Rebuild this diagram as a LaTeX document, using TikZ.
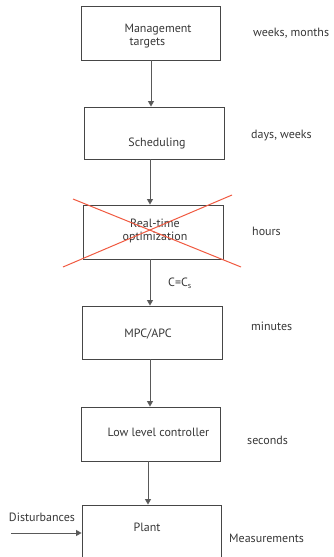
\documentclass[tikz,border=0pt]{standalone}
\usepackage{fontspec}
\setmainfont{PT Sans}
\usetikzlibrary{arrows.meta}
\definecolor{boxline}{RGB}{70,70,70}
\definecolor{txt}{RGB}{55,55,55}
\definecolor{crossred}{RGB}{240,90,65}
\begin{document}
\begin{tikzpicture}[x=1pt,y=-1pt,
  box/.style={draw=boxline,line width=0.9pt,rectangle,inner sep=0pt,minimum width=139pt,minimum height=54pt},
  lbl/.style={text=txt,inner sep=0pt,font=\fontsize{12}{13.5}\selectfont,align=center},
  arr/.style={draw=boxline!90,line width=0.9pt,-{Triangle[length=5.5pt,width=6pt]}},
  strike/.style={draw=crossred,line width=1pt}]
\useasboundingbox (0,0) rectangle (333,557);

% level boxes
\node[box] (mgmt)  at (150.5,33)  {};
\node[box,minimum width=140pt,minimum height=52pt] (sched) at (154,133) {};
\node[box,minimum width=140pt] (rto)   at (153,232) {};
\node[box,minimum width=140pt,minimum height=53pt] (mpc)   at (152,332.5) {};
\node[box] (llc)   at (150.5,434) {};
\node[box,minimum height=70pt] (plant) at (151.5,540) {};

% box captions
\node[lbl,align=left] (mgmtT) at (158,36) {Management\\\hspace*{5pt}targets};
\node[lbl] (schedT) at (157,143) {Scheduling};
\node[lbl] (rtoT)   at (155,231) {Real-time\\optimization};
\node[lbl] (mpcT)   at (148,334) {MPC/APC};
\node[lbl] (llcT)   at (158.5,432) {Low level controller};
\node[lbl] (plantT) at (147,527) {Plant};

% time scales
\node[lbl,anchor=west] (t1) at (253,33)  {weeks, months};
\node[lbl,anchor=west] (t2) at (251,136) {days, weeks};
\node[lbl,anchor=west] (t3) at (252,231) {hours};
\node[lbl,anchor=west] (t4) at (251,326) {minutes};
\node[lbl,anchor=west] (t5) at (247,440) {seconds};
\node[lbl,anchor=west] (t6) at (229,538) {Measurements};
\node[lbl] (dtxt) at (42,517) {Disturbances};

% connectors down the hierarchy
\draw[arr] ([xshift=0.5pt]mgmt.south) -- ([xshift=-3pt]sched.north);
\draw[arr] ([xshift=-4pt]sched.south) -- ([xshift=-3pt]rto.north);
\draw[arr] ([xshift=-3pt]rto.south) -- ([xshift=-2pt]mpc.north);
\node[lbl,anchor=west] (cc) at (168,283) {C=C\textsubscript{s}};
\draw[arr] ([xshift=-2pt]mpc.south) -- ([xshift=-0.5pt]llc.north);
\draw[arr] ([xshift=-2.5pt]llc.south) -- ([xshift=-3.5pt]plant.north);
\coordinate (dist) at (11,533);
\draw[arr] (dist) -- (dist -| plant.west);

% optimisation layer struck out
\draw[strike] (73,199) -- (241,267);
\draw[strike] (63,267) -- (232,195);
\end{tikzpicture}
\end{document}
